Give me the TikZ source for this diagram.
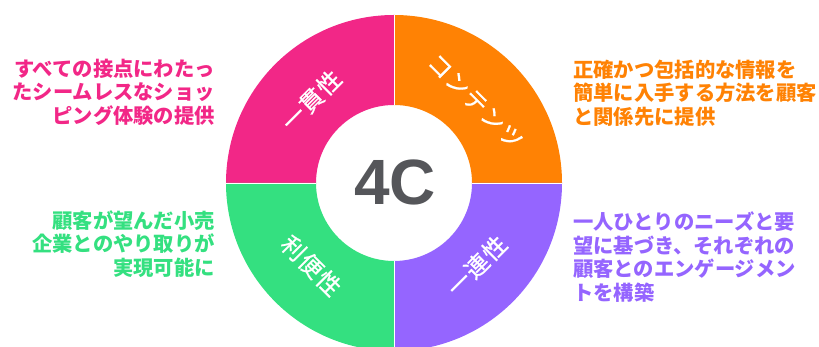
\documentclass[tikz,border=0pt]{standalone}
\usepackage{fontspec}
\usetikzlibrary{calc}
\setmainfont{Liberation Sans}
\newfontfamily\jp{Noto Sans CJK JP}
\newfontfamily\jpspaced{Noto Sans CJK JP}[LetterSpace=6,FakeBold=0.8]
\newfontfamily\heavy{Liberation Sans}
\definecolor{cpink}{HTML}{F22787}
\definecolor{corange}{HTML}{FF8204}
\definecolor{cpurple}{HTML}{9565FF}
\definecolor{cgreen}{HTML}{34E080}
\definecolor{cdark}{HTML}{55565A}
\begin{document}
\begin{tikzpicture}[x=1pt,y=1pt,
  seglabel/.style={text=white,font=\jpspaced\fontsize{23.5}{26}\selectfont,inner sep=0pt},
  desc/.style={font=\jp\bfseries\fontsize{20.3}{23.5}\selectfont,inner sep=0pt}]
\useasboundingbox (0,0) rectangle (819,347);
\coordinate (c) at (394,164);
\def\Ro{168}\def\Ri{78}
% sectors
\fill[cpink]   (394,164) ++(90:\Ro) arc[start angle=90,end angle=180,radius=\Ro] -- ++(0:{\Ro-\Ri}) arc[start angle=180,end angle=90,radius=\Ri] -- cycle;
\fill[corange] (394,164) ++(0:\Ro) arc[start angle=0,end angle=90,radius=\Ro] -- ++(0,{-(\Ro-\Ri)}) arc[start angle=90,end angle=0,radius=\Ri] -- cycle;
\fill[cpurple] (394,164) ++(270:\Ro) arc[start angle=270,end angle=360,radius=\Ro] -- ++({-(\Ro-\Ri)},0) arc[start angle=0,end angle=-90,radius=\Ri] -- cycle;
\fill[cgreen]  (394,164) ++(180:\Ro) arc[start angle=180,end angle=270,radius=\Ro] -- ++(0,{\Ro-\Ri}) arc[start angle=270,end angle=180,radius=\Ri] -- cycle;
\draw[white,line width=0.6pt] (394,{164+\Ri}) -- (394,{164+\Ro});
\draw[white,line width=0.6pt] (394,{164-\Ri}) -- (394,{164-\Ro});
\draw[white,line width=0.6pt] ({394+\Ri},164) -- ({394+\Ro},164);
\draw[white,line width=0.6pt] ({394-\Ri},164) -- ({394-\Ro},164);
% segment labels
\node[seglabel,rotate=45]  (l1) at ($(c)+(135:117)$) {一貫性};
\node[seglabel,rotate=-45] (l2) at ($(c)+(45:115)$) {コンテンツ};
\node[seglabel,rotate=45]  (l3) at ($(c)+(-45:117)$) {一連性};
\node[seglabel,rotate=-45] (l4) at ($(c)+(225:117)$) {利便性};
% center
\node[text=cdark,font=\heavy\bfseries\fontsize{64}{64}\selectfont,inner sep=0pt] (t) at (395,165) {4C};
% descriptions
\node[desc,text=cpink,align=right,anchor=east] (d1) at (215,255) {すべての接点にわたっ\\たシームレスなショッ\\ピング体験の提供};
\node[desc,text=corange,align=left,anchor=west] (d2) at (573,254) {正確かつ包括的な情報を\\簡単に入手する方法を顧客\\と関係先に提供};
\node[desc,text=cgreen,align=right,anchor=east] (d3) at (215,103) {顧客が望んだ小売\\企業とのやり取りが\\実現可能に};
\node[desc,text=cpurple,align=left,anchor=west] (d4) at (573,90) {一人ひとりのニーズと要\\望に基づき、それぞれの\\顧客とのエンゲージメン\\トを構築};
\end{tikzpicture}
\end{document}
